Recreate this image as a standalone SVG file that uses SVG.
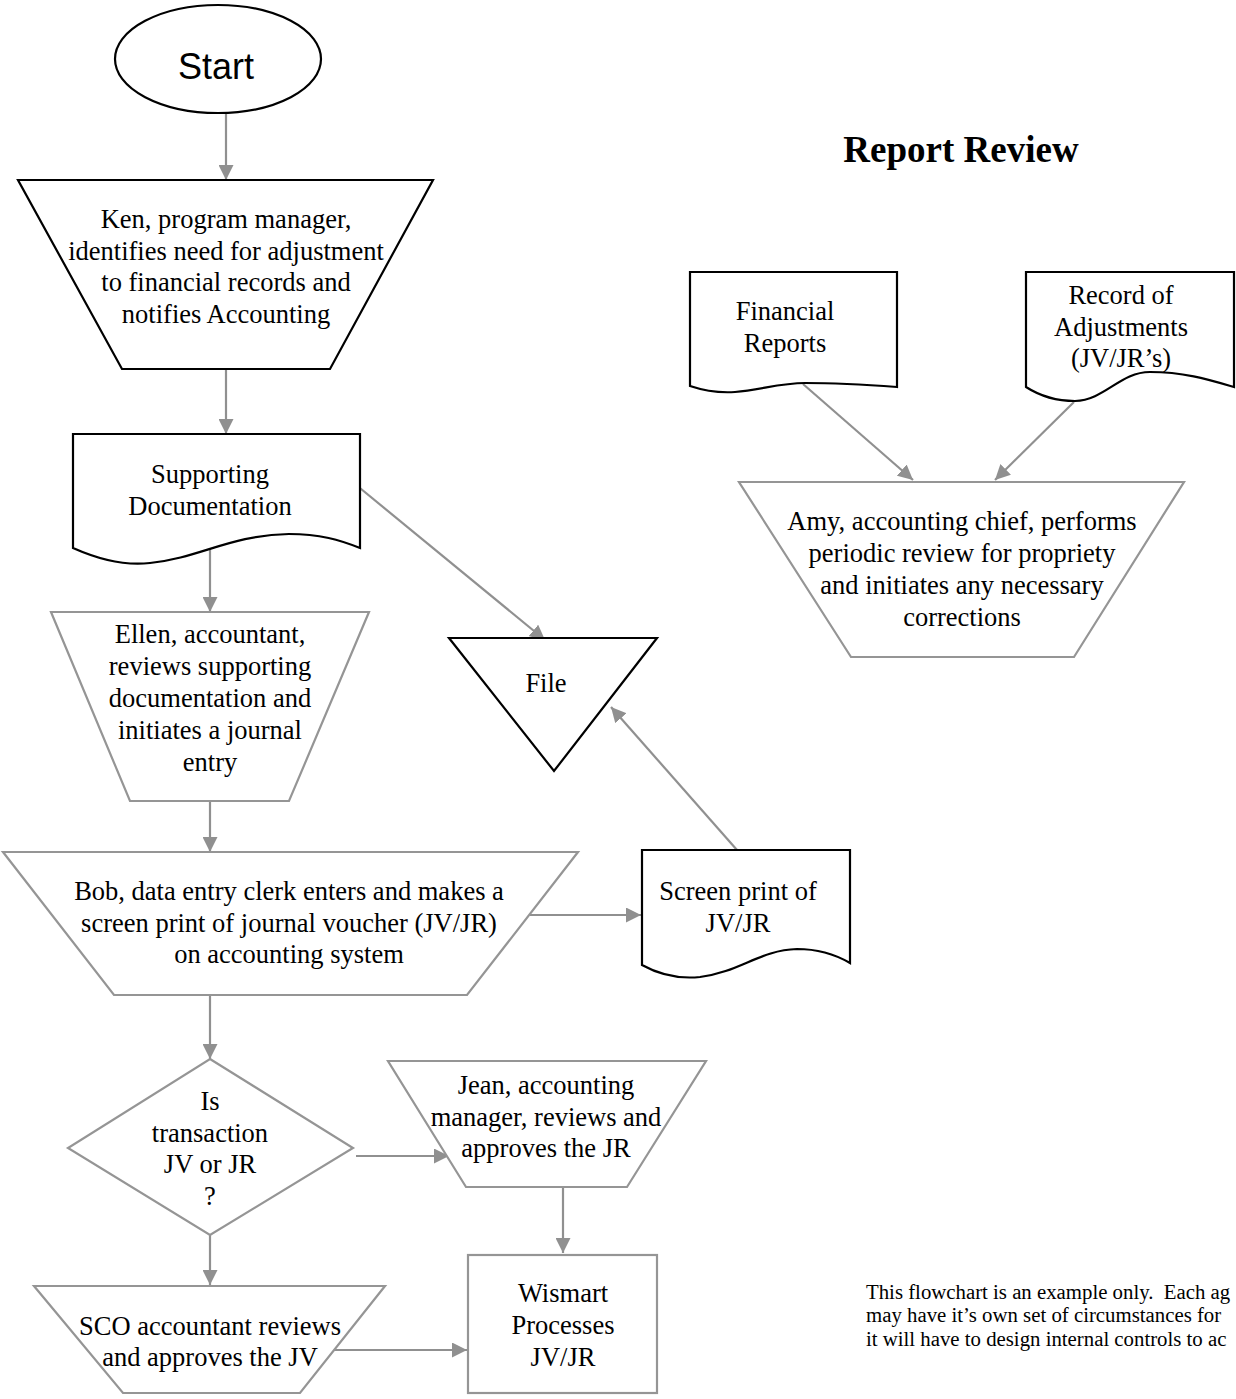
<svg xmlns="http://www.w3.org/2000/svg" width="1236" height="1399" viewBox="0 0 1236 1399">
<style>
.blk{fill:#fff;stroke:#000;stroke-width:2.2}
.gry{fill:#fff;stroke:#959595;stroke-width:2.2}
.t{font-family:"Liberation Serif","Times New Roman",serif;font-size:26.5px;fill:#000;text-anchor:middle}
.c{stroke:#909090;stroke-width:2.2;fill:none;marker-end:url(#ah)}
.note{font-family:"Liberation Serif","Times New Roman",serif;font-size:20.8px;fill:#000;white-space:pre}
</style>
<defs>
<marker id="ah" viewBox="0 0 10 10" refX="10" refY="5" markerUnits="userSpaceOnUse" markerWidth="15" markerHeight="15" orient="auto">
<path d="M0,0 L10,5 L0,10 z" fill="#909090"/>
</marker>
</defs>
<rect width="1236" height="1399" fill="#fff"/>

<g id="connectors">
<line class="c" x1="226" y1="113" x2="226" y2="180"/>
<line class="c" x1="226" y1="369" x2="226" y2="434"/>
<line class="c" x1="210" y1="548" x2="210" y2="612"/>
<line class="c" x1="355" y1="484" x2="545" y2="640"/>
<line class="c" x1="210" y1="801" x2="210" y2="852"/>
<line class="c" x1="530" y1="915" x2="641" y2="915"/>
<line class="c" x1="737" y1="850" x2="611" y2="707"/>
<line class="c" x1="210" y1="995" x2="210" y2="1059"/>
<line class="c" x1="356" y1="1156" x2="449" y2="1156"/>
<line class="c" x1="563" y1="1187" x2="563" y2="1253"/>
<line class="c" x1="210" y1="1235" x2="210" y2="1285"/>
<line class="c" x1="323" y1="1350" x2="467" y2="1350"/>
<line class="c" x1="803" y1="384" x2="913" y2="480"/>
<line class="c" x1="1074" y1="402" x2="995" y2="480"/>
</g>

<g id="start">
<ellipse class="blk" cx="218" cy="59" rx="103" ry="54"/>
<text x="216" y="79" style="font-family:'Liberation Sans',Arial,sans-serif;font-size:36px;text-anchor:middle">Start</text>
</g>

<g id="ken">
<polygon class="blk" points="18,180 433,180 330,369 122,369"/>
<text class="t" x="226" y="228">Ken, program manager,</text>
<text class="t" x="226" y="260">identifies need for adjustment</text>
<text class="t" x="226" y="291">to financial records and</text>
<text class="t" x="226" y="323">notifies Accounting</text>
</g>

<g id="supporting">
<path class="blk" d="M73,548 V434 H360 V548 C340,540 320,534 289,534 C230,535 200,558 150,563 C125,566 100,560 73,548 Z"/>
<text class="t" x="210" y="483">Supporting</text>
<text class="t" x="210" y="515">Documentation</text>
</g>

<g id="ellen">
<polygon class="gry" points="51,612 369,612 289,801 130,801"/>
<text class="t" x="210" y="643">Ellen, accountant,</text>
<text class="t" x="210" y="675">reviews supporting</text>
<text class="t" x="210" y="707">documentation and</text>
<text class="t" x="210" y="739">initiates a journal</text>
<text class="t" x="210" y="771">entry</text>
</g>

<g id="file">
<polygon class="blk" points="449,638 657,638 554,771"/>
<text class="t" x="546" y="692">File</text>
</g>

<g id="bob">
<polygon class="gry" points="3,852 578,852 467,995 114,995"/>
<text class="t" x="289" y="900">Bob, data entry clerk enters and makes a</text>
<text class="t" x="289" y="932">screen print of journal voucher (JV/JR)</text>
<text class="t" x="289" y="963">on accounting system</text>
</g>

<g id="screenprint">
<path class="blk" d="M642,965 V850 H850 V963 C838,956 820,949 797,949 C760,950 740,972 700,977 C680,979 660,975 642,965 Z"/>
<text class="t" x="738" y="900">Screen print of</text>
<text class="t" x="738" y="932">JV/JR</text>
</g>

<g id="decision">
<polygon class="gry" points="210,1059 353,1148 210,1235 68,1148"/>
<text class="t" x="210" y="1110">Is</text>
<text class="t" x="210" y="1142">transaction</text>
<text class="t" x="210" y="1173">JV or JR</text>
<text class="t" x="210" y="1205">?</text>
</g>

<g id="jean">
<polygon class="gry" points="388,1061 706,1061 627,1187 466,1187"/>
<text class="t" x="546" y="1094">Jean, accounting</text>
<text class="t" x="546" y="1126">manager, reviews and</text>
<text class="t" x="546" y="1157">approves the JR</text>
</g>

<g id="sco">
<polygon class="gry" points="34,1286 385,1286 300,1393 123,1393"/>
<text class="t" x="210" y="1335">SCO accountant reviews</text>
<text class="t" x="210" y="1366">and approves the JV</text>
</g>

<g id="wismart">
<rect class="gry" x="468" y="1255" width="189" height="138"/>
<text class="t" x="563" y="1302">Wismart</text>
<text class="t" x="563" y="1334">Processes</text>
<text class="t" x="563" y="1366">JV/JR</text>
</g>

<g id="title">
<text x="961" y="162" style="font-family:'Liberation Serif','Times New Roman',serif;font-size:37px;font-weight:bold;text-anchor:middle">Report Review</text>
</g>

<g id="financial">
<path class="blk" d="M690,386 V272 H897 V387 C870,385 840,383 805,383 C780,383 760,390 735,392 C720,393 705,391 690,386 Z"/>
<text class="t" x="785" y="320">Financial</text>
<text class="t" x="785" y="352">Reports</text>
</g>

<g id="record">
<path class="blk" d="M1026,387 V272 H1234 V387 C1210,380 1185,372 1150,372 C1120,372 1105,400 1075,401 C1055,401 1040,396 1026,387 Z"/>
<text class="t" x="1121" y="304">Record of</text>
<text class="t" x="1121" y="336">Adjustments</text>
<text class="t" x="1121" y="367">(JV/JR’s)</text>
</g>

<g id="amy">
<polygon class="gry" points="739,482 1184,482 1074,657 851,657"/>
<text class="t" x="962" y="530">Amy, accounting chief, performs</text>
<text class="t" x="962" y="562">periodic review for propriety</text>
<text class="t" x="962" y="594">and initiates any necessary</text>
<text class="t" x="962" y="626">corrections</text>
</g>

<g id="footnote">
<text class="note" x="866" y="1299">This flowchart is an example only.  Each ag</text>
<text class="note" x="866" y="1322">may have it’s own set of circumstances for</text>
<text class="note" x="866" y="1346">it will have to design internal controls to ac</text>
</g>
</svg>
